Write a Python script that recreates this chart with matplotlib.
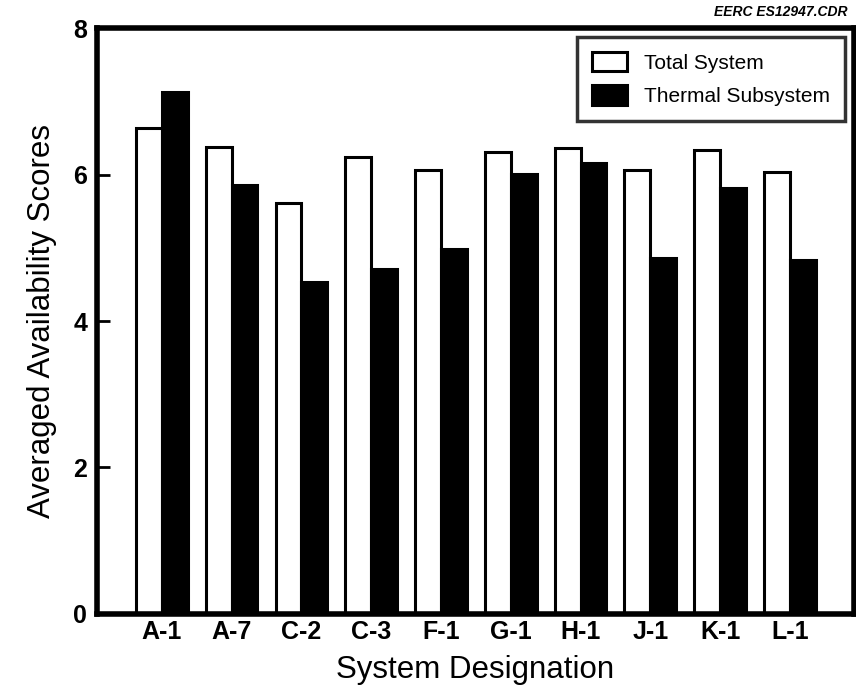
import numpy as np
import matplotlib
matplotlib.use("Agg")
import matplotlib.pyplot as plt

plt.rcParams['font.family'] = ['Liberation Sans', 'DejaVu Sans']

systems = ["A-1", "A-7", "C-2", "C-3", "F-1", "G-1", "H-1", "J-1", "K-1", "L-1"]
total_system = [6.63, 6.38, 5.61, 6.24, 6.06, 6.31, 6.36, 6.06, 6.33, 6.03]
thermal_subsystem = [7.13, 5.86, 4.53, 4.71, 4.98, 6.01, 6.16, 4.86, 5.82, 4.83]
y_ticks = [0, 2, 4, 6, 8]

fig = plt.figure(figsize=(8.56, 6.87), dpi=100)
ax = fig.add_axes([0.1133, 0.1063, 0.8844, 0.8529])

x = np.arange(1, len(systems) + 1)
w = 0.37
ax.bar(x - w / 2, total_system, width=w, facecolor="white", edgecolor="black",
       linewidth=2.2, label="Total System", zorder=2)
ax.bar(x + w / 2, thermal_subsystem, width=w, facecolor="black", edgecolor="black",
       linewidth=2.2, label="Thermal Subsystem", zorder=2)

ax.set_xlim(0.07, 10.92)
ax.set_ylim(0, 8)
ax.set_yticks(y_ticks)
ax.set_xticks(x)
ax.set_xticklabels(systems)

for s in ax.spines.values():
    s.set_linewidth(4)
ax.tick_params(axis="y", direction="in", length=9, width=2, pad=7, labelsize=18)
ax.tick_params(axis="x", length=0, pad=4, labelsize=18)
for lab in ax.get_xticklabels() + ax.get_yticklabels():
    lab.set_fontweight("bold")

ax.set_ylabel("Averaged Availability Scores", fontsize=22.5, labelpad=12)
ax.set_xlabel("System Designation", fontsize=22.5, labelpad=8)

leg = ax.legend(loc="upper right", fontsize=15, frameon=True, fancybox=False,
                borderaxespad=0.45, handlelength=1.7, handleheight=1.05,
                handletextpad=0.8, labelspacing=0.6, borderpad=0.7)
leg.get_frame().set_edgecolor("black")
leg.get_frame().set_linewidth(2.5)

fig.text(0.99, 0.982, "EERC ES12947.CDR", ha="right", va="center",
         fontsize=10, fontweight="bold", fontstyle="italic")

fig.savefig("out.png", dpi=100)
